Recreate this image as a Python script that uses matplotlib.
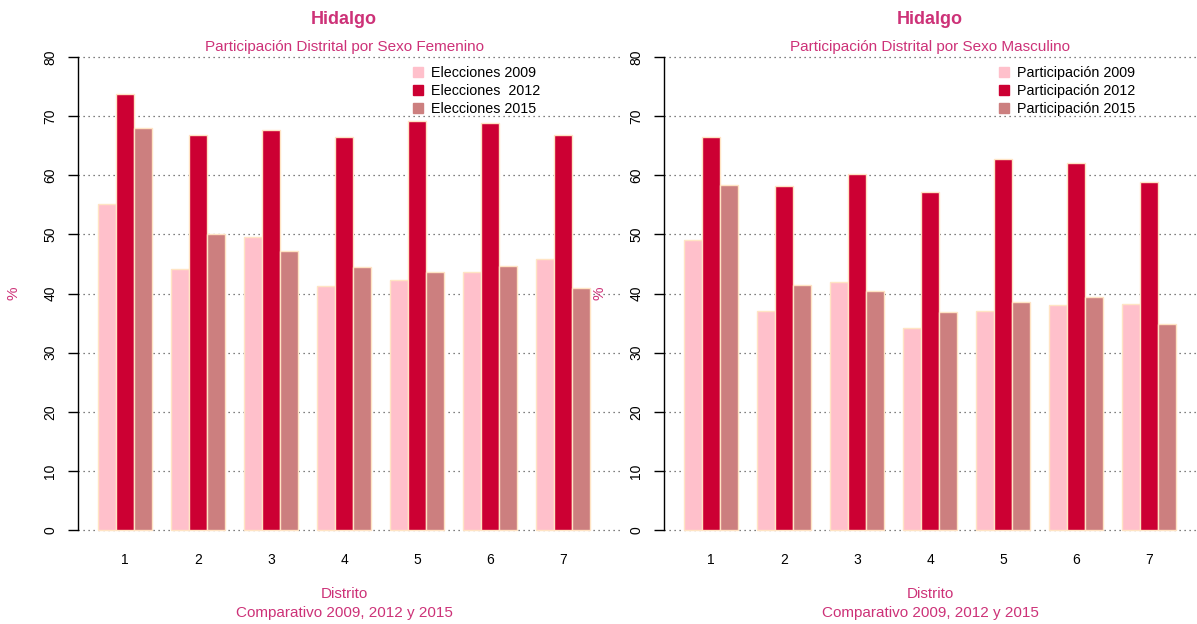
import matplotlib
matplotlib.use("Agg")
import matplotlib.pyplot as plt
from matplotlib.lines import Line2D

plt.rcParams['font.family'] = ['Liberation Sans', 'DejaVu Sans']

distritos = ["1", "2", "3", "4", "5", "6", "7"]

fem_2009 = [55.1, 44.1, 49.6, 41.3, 42.3, 43.7, 45.8]
fem_2012 = [73.7, 66.8, 67.7, 66.5, 69.2, 68.9, 66.8]
fem_2015 = [68.0, 50.0, 47.2, 44.4, 43.7, 44.7, 40.9]

mas_2009 = [49.0, 37.1, 41.9, 34.2, 37.0, 38.0, 38.3]
mas_2012 = [66.5, 58.1, 60.2, 57.2, 62.7, 62.0, 58.8]
mas_2015 = [58.3, 41.5, 40.4, 36.9, 38.6, 39.4, 34.8]

fem_labels = ["Elecciones 2009", "Elecciones  2012", "Elecciones 2015"]
mas_labels = ["Participación 2009", "Participación 2012", "Participación 2015"]
yticks = [0, 10, 20, 30, 40, 50, 60, 70, 80]

colors = ["#FFC0CB", "#CC0033", "#CC7F7F"]
edge = "#FFE4C4"
txtc = "#CD3278"

W, H = 1197, 624
fig = plt.figure(figsize=(W / 100, H / 100), dpi=100)

def px_axes(x0, x1, ytop, ybot):
    return fig.add_axes([x0 / W, 1 - ybot / H, (x1 - x0) / W, (ybot - ytop) / H])

def panel(x0, series, labels, subtitle, leg_x):
    unit = 18.25
    x1 = x0 + 29.16 * unit
    ax = px_axes(x0, x1, 38, 549)
    ax.set_xlim(-0.08, 29.08)
    ax.set_ylim(-3.2, 83.2)
    for y in yticks:
        ax.plot([0, 1.02], [y, y], transform=ax.get_yaxis_transform(), color="#555555",
                lw=0.9, ls=(0, (1, 3)), zorder=0, clip_on=False)
    centers = []
    for g in range(len(distritos)):
        for k, s in enumerate(series):
            ax.bar(1 + 4 * g + k, s[g], width=1, align='edge', color=colors[k],
                   edgecolor=edge, linewidth=1, zorder=2)
        centers.append(1 + 4 * g + 1.5)
    ax.set_xticks(centers)
    ax.set_xticklabels(distritos, fontsize=10)
    ax.tick_params(axis='x', length=0, pad=3)
    ax.set_yticks(yticks)
    ax.set_yticklabels([str(v) for v in yticks], rotation=90, va='center', fontsize=10)
    ax.tick_params(axis='y', length=7, width=1, pad=8)
    for sp in ['top', 'right', 'bottom']:
        ax.spines[sp].set_visible(False)
    ax.spines['left'].set_bounds(0, 80)
    ax.spines['left'].set_linewidth(1)
    cx = (x0 + x1) / 2 / W
    fig.text(cx, 1 - 19 / H, "Hidalgo", ha='center', va='center', fontsize=13,
             fontweight='bold', color=txtc)
    fig.text(cx, 1 - 47 / H, subtitle, ha='center', va='center', fontsize=11, color=txtc)
    fig.text(cx, 1 - 594 / H, "Distrito", ha='center', va='center', fontsize=11, color=txtc)
    fig.text(cx, 1 - 613 / H, "Comparativo 2009, 2012 y 2015", ha='center', va='center',
             fontsize=11, color=txtc)
    fig.text((x0 - 64) / W, 1 - 293 / H, "%", rotation=90, ha='center', va='center',
             fontsize=11, color=txtc)
    handles = [Line2D([], [], marker='s', ls='none', color=c, markersize=7) for c in colors]
    ax.legend(handles, labels, loc='upper left', bbox_to_anchor=(leg_x / W, 1 - 66 / H),
              bbox_transform=fig.transFigure, frameon=False, fontsize=10.3,
              handlelength=0.8, handletextpad=0.5, labelspacing=0.28, borderpad=0,
              borderaxespad=0)
    return ax

panel(78, [fem_2009, fem_2012, fem_2015], fem_labels,
      "Participación Distrital por Sexo Femenino", 412)
panel(664, [mas_2009, mas_2012, mas_2015], mas_labels,
      "Participación Distrital por Sexo Masculino", 998)

fig.savefig("out.png", dpi=100)
